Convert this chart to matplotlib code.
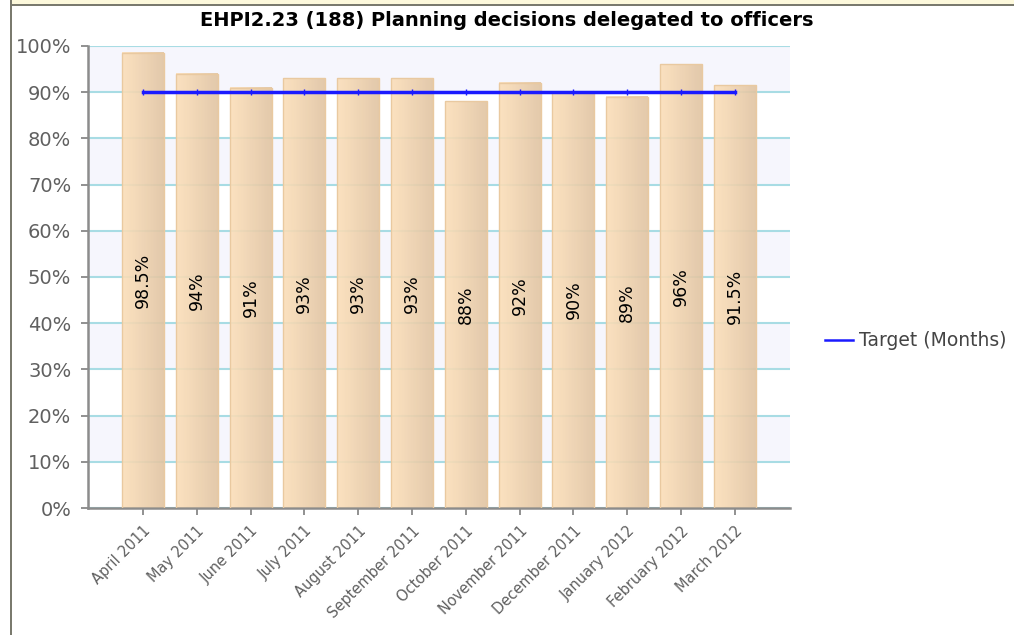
import numpy as np
import matplotlib
matplotlib.use("Agg")
import matplotlib.pyplot as plt
from matplotlib.colors import LinearSegmentedColormap
from matplotlib.patches import Rectangle
from matplotlib.lines import Line2D

# Data
months = ["April 2011", "May 2011", "June 2011", "July 2011", "August 2011",
          "September 2011", "October 2011", "November 2011", "December 2011",
          "January 2012", "February 2012", "March 2012"]
actual = [98.5, 94, 91, 93, 93, 93, 88, 92, 90, 89, 96, 91.5]
labels = ["98.5%", "94%", "91%", "93%", "93%", "93%", "88%", "92%", "90%",
          "89%", "96%", "91.5%"]
target = [90] * 12
yticks = list(range(0, 101, 10))

grey = "#606060"

fig = plt.figure(figsize=(10.14, 6.35), dpi=100)
ax = fig.add_axes([0.0868, 0.2, 0.692, 0.7276])

x = np.arange(len(months))

# alternating bands
for lo in range(10, 100, 20):
    ax.axhspan(lo, lo + 10, color="#f6f6fd", zorder=0, lw=0)
ax.yaxis.grid(True, color="#a8dce4", lw=1.5, zorder=1)
ax.set_axisbelow(True)

# bars with a horizontal gradient
cmap = LinearSegmentedColormap.from_list("bar", ["#fcdfb9", "#e1c4a2"])
grad = np.linspace(0, 1, 64).reshape(1, -1)
bars = ax.bar(x, actual, width=0.78, color="none", edgecolor="#e9c9a0",
              lw=1, zorder=3)
for b in bars:
    x0, w, h = b.get_x(), b.get_width(), b.get_height()
    ax.imshow(grad, extent=[x0, x0 + w, 0, h], aspect="auto", cmap=cmap,
              alpha=0.9, zorder=2, interpolation="bicubic")
ax.set_aspect("auto")
ax.set_xlim(-1.02, len(months) - 1 + 1.02)
ax.set_ylim(0, 100)

for xi, v, t in zip(x, actual, labels):
    ax.text(xi, v / 2, t, rotation=90, ha="center", va="center",
            fontsize=12.5, color="black", zorder=5)

ax.plot(x, target, color="#1a1aff", lw=2.5, marker="|", ms=5, mew=1,
        zorder=4, label="Target (Months)")

ax.set_yticks(yticks)
ax.set_yticklabels([f"{v}%" for v in yticks])
ax.set_xticks(x)
ax.set_xticklabels(months, rotation=45, ha="right", rotation_mode="anchor")
ax.tick_params(axis="both", colors="#888888", labelcolor=grey, labelsize=14,
               length=5, width=1.3)
ax.tick_params(axis="y", pad=7)
ax.tick_params(axis="x", labelsize=10.5, pad=6)

for s in ["top", "right"]:
    ax.spines[s].set_visible(False)
for s in ["left", "bottom"]:
    ax.spines[s].set_color("#8c8c8c")
    ax.spines[s].set_linewidth(1.8)

fig.text(0.5, 0.967, "EHPI2.23 (188) Planning decisions delegated to officers",
         ha="center", va="center", fontsize=14, fontweight="bold")

handle = Line2D([], [], color="#1a1aff", lw=1.8)
fig.legend([handle], ["Target (Months)"], loc="center left",
           bbox_to_anchor=(0.797, 0.463), frameon=False, fontsize=13.5,
           labelcolor="#444444", handlelength=1.5, handletextpad=0.3)

# screenshot border
fig.patches.append(Rectangle((0.011, 0.994), 0.989, 0.006, transform=fig.transFigure,
                             color="#fdf9dc", lw=0))
fig.patches.append(Rectangle((0.0105, 0.990), 0.9895, 0.004, transform=fig.transFigure,
                             color="#7a7a6e", lw=0))
fig.patches.append(Rectangle((0.0095, 0.0), 0.0025, 1.0, transform=fig.transFigure,
                             color="#7a7a6e", lw=0))

fig.savefig("out.png", dpi=100)
